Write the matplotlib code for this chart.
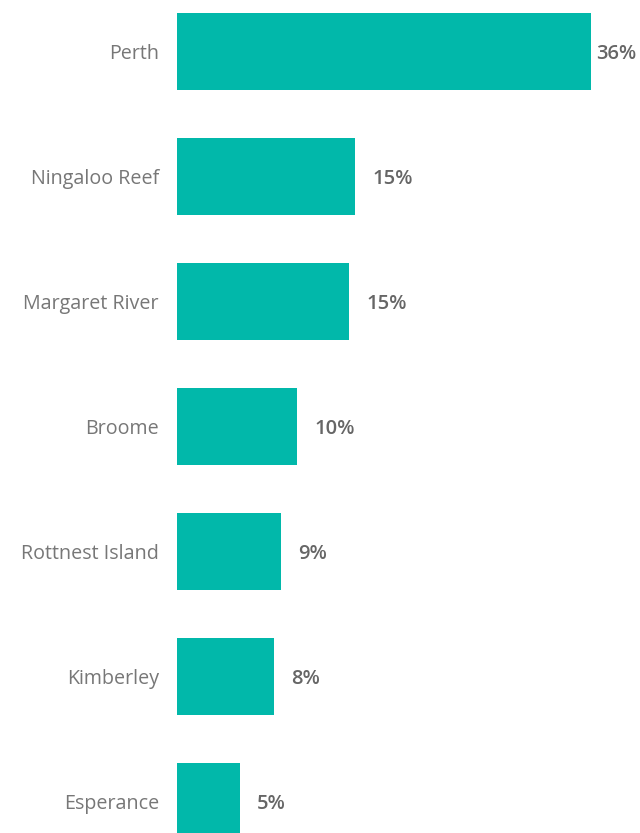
import matplotlib
matplotlib.use("Agg")
import matplotlib.pyplot as plt

# data
places = ["Perth", "Ningaloo Reef", "Margaret River", "Broome",
          "Rottnest Island", "Kimberley", "Esperance"]
shares = [35.8, 15.4, 14.9, 10.4, 9.0, 8.4, 5.4]

plt.rcParams['font.family'] = ['Open Sans', 'DejaVu Sans']

fig = plt.figure(figsize=(6.4, 8.33), dpi=100)
ax = fig.add_axes([177/640, 0, 1 - 177/640, 1])

ypos = list(range(len(places)))
ax.barh(ypos, shares, height=0.616, color="#01B8AA")

ax.set_xlim(0, 40)
ax.set_ylim(6.252, -0.412)

ax.set_yticks(ypos)
ax.set_yticklabels(places, fontsize=14.2, color="#777777")
ax.tick_params(axis="y", length=0, pad=13)
ax.set_xticks([])
for s in ax.spines.values():
    s.set_visible(False)

# value labels, the big one squeezed next to its bar
for y, v in zip(ypos, shares):
    off = 5 if v > 30 else 17
    ax.annotate(f"{v:.0f}%", (v, y), xytext=(off * 0.72, -1.5), textcoords="offset points",
                va="center", ha="left", fontsize=14.5, fontweight="semibold", color="#666666")

fig.savefig("out.png", dpi=100)
